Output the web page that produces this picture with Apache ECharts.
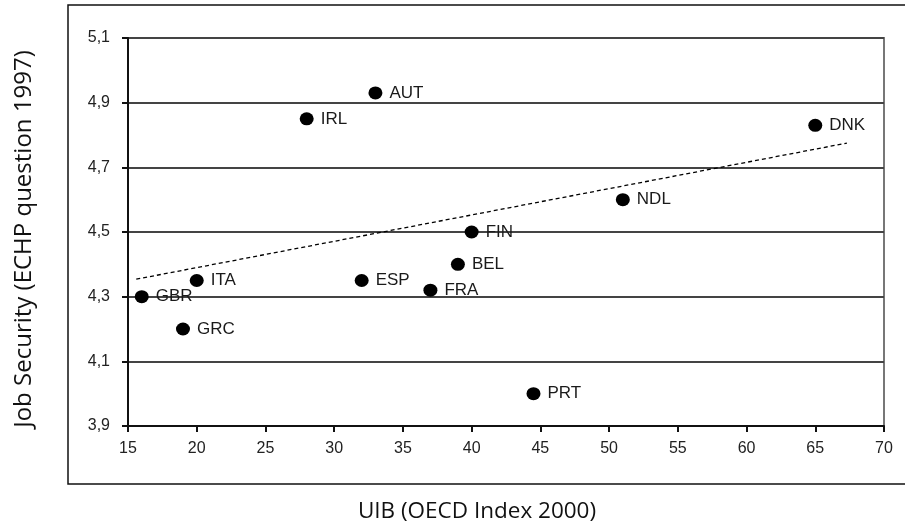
<!DOCTYPE html>
<html>
<head>
<meta charset="utf-8">
<script src="https://cdn.jsdelivr.net/npm/echarts@6/dist/echarts.min.js"></script>
<style>
  html, body { margin: 0; padding: 0; background: #fff; }
  #chart { width: 905px; height: 531px; }
</style>
</head>
<body>
<div id="chart"></div>
<script>
// Countries with their UIB index (x) and job security score (y)
const countries = ['AUT', 'IRL', 'DNK', 'NDL', 'FIN', 'BEL', 'ESP', 'FRA', 'PRT', 'ITA', 'GBR', 'GRC'];
const uibIndex  = [33, 28, 65, 51, 40, 39, 32, 37, 44.5, 20, 16, 19];
const jobSecurity = [4.93, 4.85, 4.83, 4.6, 4.5, 4.4, 4.35, 4.32, 4.0, 4.35, 4.3, 4.2];

// Linear trend end points
const trendX = [15.6, 67.3];
const trendY = [4.354, 4.775];

const xTitle = 'UIB (OECD Index 2000)';
const yTitle = 'Job Security (ECHP question 1997)';

const points = countries.map((c, i) => ({ name: c, value: [uibIndex[i], jobSecurity[i]] }));
const trend = trendX.map((x, i) => [x, trendY[i]]);

const labelFont = '"Liberation Sans", Arial, sans-serif';
const titleFont = '"Open Sans", "Noto Sans", sans-serif';

const chart = echarts.init(document.getElementById('chart'), null, { renderer: 'canvas' });
chart.setOption({
  animation: false,
  backgroundColor: '#fff',
  grid: {
    left: 128, right: 21, top: 38, bottom: 105,
    show: true, borderColor: '#777', borderWidth: 2, backgroundColor: 'transparent'
  },
  xAxis: {
    type: 'value', min: 15, max: 70, interval: 5,
    axisLine: { show: true, onZero: false, lineStyle: { color: '#111', width: 2 } },
    axisTick: { show: true, inside: false, length: 6, lineStyle: { color: '#111', width: 2 } },
    axisLabel: { margin: 15, fontFamily: labelFont, fontSize: 16, color: '#222' },
    splitLine: { show: false }
  },
  yAxis: {
    type: 'value', min: 3.9, max: 5.1, interval: 0.2,
    axisLine: { show: true, onZero: false, lineStyle: { color: '#111', width: 2 } },
    axisTick: { show: true, inside: false, length: 6, lineStyle: { color: '#111', width: 2 } },
    axisLabel: {
      margin: 18, fontFamily: labelFont, fontSize: 16, color: '#222',
      formatter: v => v.toFixed(1).replace('.', ',')
    },
    splitLine: { show: true, lineStyle: { color: '#444', width: 2 } }
  },
  series: [
    {
      type: 'line',
      data: trend,
      symbol: 'none',
      silent: true,
      lineStyle: { color: '#000', width: 1.3, type: [4, 3] },
      z: 3
    },
    {
      type: 'scatter',
      data: points,
      symbol: 'circle',
      symbolSize: [14, 13],
      itemStyle: { color: '#000', opacity: 1 },
      label: {
        show: true, position: 'right', distance: 7,
        formatter: p => p.name,
        fontFamily: labelFont, fontSize: 17, color: '#1a1a1a'
      },
      z: 4
    }
  ],
  graphic: [
    {
      type: 'rect', silent: true, z: 0,
      shape: { x: 68, y: 5, width: 900, height: 479 },
      style: { fill: null, stroke: '#111', lineWidth: 1.5 }
    },
    {
      type: 'text', silent: true,
      x: 477, y: 512,
      style: {
        text: xTitle, fontFamily: titleFont, fontSize: 22.5, fill: '#111',
        align: 'center', verticalAlign: 'middle'
      }
    },
    {
      type: 'text', silent: true,
      x: 24, y: 239, rotation: Math.PI / 2,
      style: {
        text: yTitle, fontFamily: titleFont, fontSize: 24, fill: '#111',
        align: 'center', verticalAlign: 'middle'
      }
    }
  ]
});
</script>
</body>
</html>
